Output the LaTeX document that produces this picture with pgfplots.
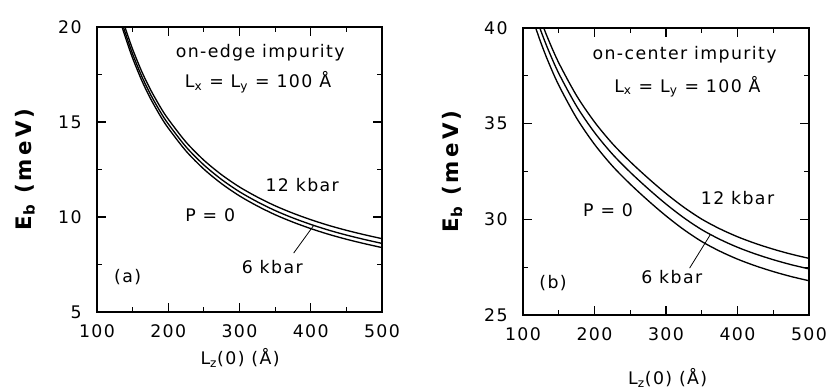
\documentclass[border=0pt]{standalone}
\usepackage{fontspec}
\setmainfont{DejaVu Sans}[LetterSpace=8]
\usepackage{pgfplots}
\pgfplotsset{compat=1.18}
\newcommand{\ylab}{{\bfseries\fontsize{16}{18}\selectfont\addfontfeature{LetterSpace=15}E\textsubscript{b} (meV)}}
\pgfplotsset{
  panel/.style={
    scale only axis,
    anchor=south west,
    xmin=100, xmax=500,
    xtick={100,200,300,400,500},
    minor x tick num=1,
    minor y tick num=1,
    tick align=inside,
    major tick length=6.5pt,
    minor tick length=3.5pt,
    every tick/.style={black, line width=0.9pt},
    axis line style={line width=1pt},
    /pgf/number format/assume math mode=true,
    tick label style={font=\fontsize{13}{15}\selectfont},
    xticklabel style={yshift=-6pt},
    yticklabel style={xshift=-8pt},
    clip=true,
  },
  curve/.style={black, line width=1pt, smooth, mark=none},
}
\begin{document}
\begin{tikzpicture}[font=\fontsize{13}{15}\selectfont]
\useasboundingbox (0,0) rectangle (621pt,291.75pt);
% ---------------- panel (a) ----------------
\begin{axis}[panel,
  at={(72.75pt,57.75pt)}, width=213.75pt, height=213.75pt,
  ymin=5, ymax=20, ytick={5,10,15,20},
  xlabel={L\textsubscript{z}(0) (Å)},
  ylabel={\ylab},
  xlabel style={at={(axis description cs:0.502,-0.161)}, anchor=center},
  ylabel style={at={(axis description cs:-0.2526,0.5)}, anchor=center},
]
% P = 0
\addplot[curve] coordinates {(130,20.68)(135,20.03)(140,19.44)(150,18.36)(163,17.17)(175,16.24)(189,15.31)(200,14.68)(225,13.47)(250,12.52)(275,11.75)(300,11.11)(325,10.58)(350,10.12)(375,9.73)(400,9.39)(425,9.09)(450,8.83)(475,8.60)(500,8.39)};
% 6 kbar
\addplot[curve] coordinates {(130,20.90)(135,20.25)(140,19.66)(150,18.58)(163,17.39)(175,16.46)(189,15.53)(200,14.90)(225,13.69)(250,12.74)(275,11.97)(300,11.33)(325,10.80)(350,10.34)(375,9.95)(400,9.61)(425,9.31)(450,9.05)(475,8.82)(500,8.61)};
% 12 kbar
\addplot[curve] coordinates {(130,21.15)(135,20.50)(140,19.91)(150,18.83)(163,17.64)(175,16.71)(189,15.78)(200,15.15)(225,13.94)(250,12.99)(275,12.22)(300,11.58)(325,11.05)(350,10.59)(375,10.20)(400,9.86)(425,9.56)(450,9.30)(475,9.07)(500,8.86)};
\node at (axis cs:329,18.63) {on-edge impurity};
\node at (axis cs:326,17.1) {L\textsubscript{x} = L\textsubscript{y} = 100 Å};
\node at (axis cs:388,11.68) {12 kbar};
\node at (axis cs:259,10.1) {P = 0};
\node at (axis cs:346,7.37) {6 kbar};
\node at (axis cs:143,6.84) {(a)};
\draw[line width=0.6pt] (axis cs:376,8.1) -- (axis cs:404,9.55);
\end{axis}
% ---------------- panel (b) ----------------
\begin{axis}[panel,
  at={(392.25pt,55.5pt)}, width=214.5pt, height=215.25pt,
  ymin=25, ymax=40, ytick={25,30,35,40},
  xlabel={L\textsubscript{z}(0) (Å)},
  ylabel={\ylab},
  xlabel style={at={(axis description cs:0.506,-0.2195)}, anchor=center},
  ylabel style={at={(axis description cs:-0.247,0.5)}, anchor=center},
]
% P = 0
\addplot[curve] coordinates {(115,40.30)(118,39.98)(125,39.23)(135,38.27)(150,37.01)(175,35.29)(200,33.92)(225,32.79)(250,31.84)(275,30.98)(300,30.18)(325,29.46)(350,28.84)(375,28.34)(400,27.92)(425,27.57)(450,27.27)(475,27.01)(500,26.79)};
% 6 kbar
\addplot[curve] coordinates {(115,40.92)(118,40.60)(125,39.85)(135,38.89)(150,37.63)(175,35.91)(200,34.54)(225,33.41)(250,32.46)(275,31.60)(300,30.80)(325,30.08)(350,29.46)(375,28.96)(400,28.54)(425,28.19)(450,27.89)(475,27.63)(500,27.41)};
% 12 kbar
\addplot[curve] coordinates {(115,41.47)(118,41.15)(125,40.40)(135,39.44)(150,38.18)(175,36.46)(200,35.09)(225,33.96)(250,33.01)(275,32.15)(300,31.35)(325,30.63)(350,30.01)(375,29.51)(400,29.09)(425,28.74)(450,28.44)(475,28.18)(500,27.96)};
\node at (axis cs:326,38.6) {on-center impurity};
\node at (axis cs:330,36.94) {L\textsubscript{x} = L\textsubscript{y} = 100 Å};
\node at (axis cs:400,31.1) {12 kbar};
\node at (axis cs:219,30.5) {P = 0};
\node at (axis cs:308,27.0) {6 kbar};
\node at (axis cs:142,26.65) {(b)};
\draw[line width=0.6pt] (axis cs:333,27.45) -- (axis cs:362,29.2);
\end{axis}
\end{tikzpicture}
\end{document}
